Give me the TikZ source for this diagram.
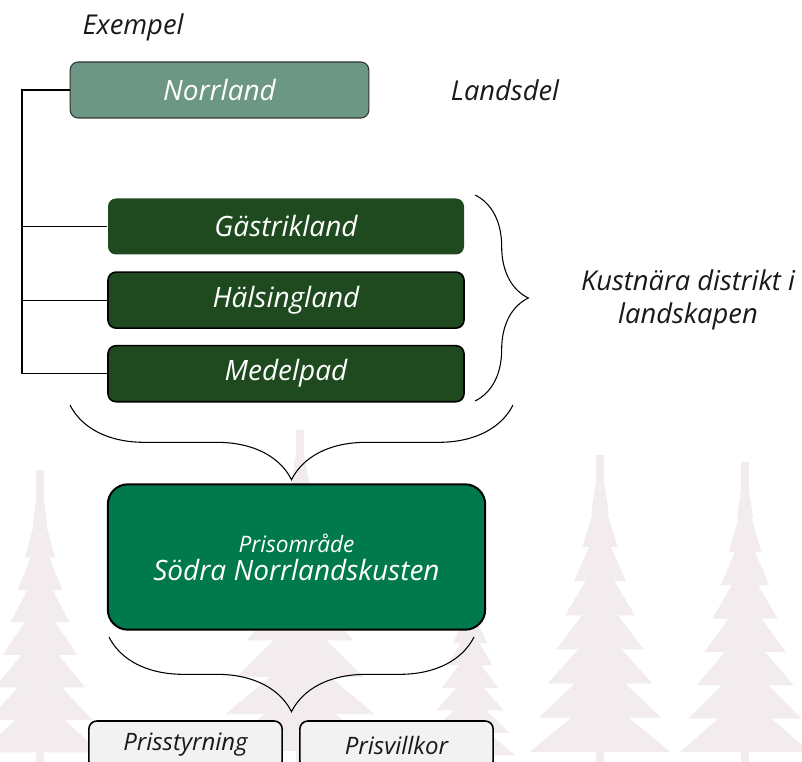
\documentclass[tikz,border=0pt]{standalone}
\usepackage{fontspec}
\setmainfont{Open Sans}
\usetikzlibrary{positioning,decorations.pathreplacing}

\definecolor{nordgreen}{HTML}{6B9784}
\definecolor{landgreen}{HTML}{1F4A1F}
\definecolor{prisgreen}{HTML}{007A4C}
\definecolor{boxgray}{HTML}{F2F2F2}
\definecolor{treepink}{RGB}{242,236,238}

% faint spruce in the background: x, top, bottom, half width
\newcommand{\spruce}[4]{%
  \foreach \k in {0,...,7}{
    \fill[treepink] (#1,{#2+\k*(#3-#2)/9})
      -- ({#1-#4*(\k+1)/8},{#2+(\k+1.7)*(#3-#2)/9})
      -- ({#1+#4*(\k+1)/8},{#2+(\k+1.7)*(#3-#2)/9}) -- cycle;
  }
  \fill[treepink] ({#1-4},#2) rectangle ({#1+4},#3);
}

\tikzset{
  label text/.style={font=\itshape\fontsize{20.5}{25}\selectfont, text=black!90},
  landsdel/.style={rounded corners=6pt, draw=black!80, line width=0.8pt, fill=nordgreen,
    text=white, font=\itshape\fontsize{21}{25}\selectfont,
    minimum width=224pt, minimum height=42pt},
  district/.style={rounded corners=6pt, draw=black, line width=1.2pt, fill=landgreen,
    text=white, font=\itshape\fontsize{21}{25}\selectfont,
    minimum width=267pt, minimum height=42pt},
  prisbox/.style={rounded corners=15pt, draw=black, line width=1.5pt, fill=prisgreen,
    text=white, align=center, font=\itshape\fontsize{21}{25}\selectfont,
    minimum width=283pt, minimum height=109pt},
  smallbox/.style={rounded corners=6pt, draw=black, line width=1.2pt, fill=boxgray,
    font=\itshape\fontsize{18}{22}\selectfont, text=black!90,
    minimum width=145pt, minimum height=36pt},
  tree line/.style={line width=0.8pt},
  bigbrace/.style={decorate, line width=0.8pt, decoration={brace, amplitude=#1}},
}

\begin{document}
\begin{tikzpicture}[x=0.75pt,y=-0.75pt]
  \useasboundingbox (0,0) rectangle (802,762);

  % background trees
  \spruce{40}{470}{762}{60}
  \spruce{300}{430}{762}{85}
  \spruce{600}{455}{762}{70}
  \spruce{745}{462}{762}{65}
  \spruce{470}{560}{762}{45}

  \node[label text] (ex) at (133,27) {Exempel};
  \node[landsdel] (norr) at (219.5,90) {Norrland};
  \node[label text] (ld) at (505,90) {Landsdel};

  \node[district, draw=none] (gast) at (286,226.5) {Gästrikland};
  \node[district, below=12pt of gast] (hals) {Hälsingland};
  \node[district, below=12pt of hals] (medel) {Medelpad};

  \coordinate (trunk) at (22,90);
  \draw[tree line, line width=1.2pt] (norr.west) -- (trunk) -- (trunk |- gast.west);
  \draw[tree line] (trunk |- gast.west) |- (medel.west);
  \draw[tree line] (trunk |- gast.west) -- (gast.west);
  \draw[tree line] (trunk |- hals.west) -- (hals.west);

  % brace to the right of the districts
  \coordinate (rb top) at (475,195);
  \coordinate (rb bot) at (475,401);
  \draw[bigbrace=40pt] (rb top) -- (rb bot);
  \node[label text, align=center] (kust) at (688,300) {Kustnära distrikt i\\landskapen};

  % brace down to the price area
  \coordinate (db left) at (70,405);
  \coordinate (db right) at (513,405);
  \draw[bigbrace=56pt] (db right) -- (db left);

  \node[prisbox] (omr) at (296.5,557)
    {{\fontsize{17}{20}\selectfont Prisområde}\\[-4pt]
     Södra Norrlandskusten};

  \coordinate (lb left) at (109,637);
  \coordinate (lb right) at (474,637);
  \draw[bigbrace=56pt] (lb right) -- (lb left);

  \node[smallbox] (styr) at (185.5,745) {Prisstyrning};
  \node[smallbox] (vill) at (396.5,745) {Prisvillkor};
\end{tikzpicture}
\end{document}
